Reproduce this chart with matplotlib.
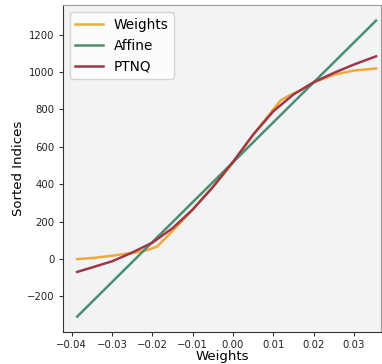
import matplotlib
matplotlib.use("Agg")
from matplotlib import pyplot as plt

# sorted weights vs index
weights_x = [-0.0387, -0.035, -0.030, -0.026, -0.0239, -0.0210, -0.0189, -0.015, -0.010, -0.005,
             0.0, 0.005, 0.010, 0.0118, 0.014, 0.017, 0.020, 0.025, 0.030, 0.0355]
weights_y = [0, 5, 18, 30, 36, 50, 66, 150, 265, 385,
             515, 665, 800, 848, 875, 905, 945, 985, 1008, 1019]

# affine fit endpoints
affine_x = [-0.0387, 0.0355]
affine_y = [-308, 1275]

# PTNQ curve
ptnq_x = [-0.0387, -0.035, -0.030, -0.025, -0.020, -0.015, -0.010, -0.005, 0.0,
          0.005, 0.010, 0.015, 0.020, 0.025, 0.030, 0.0355]
ptnq_y = [-69, -45, -12, 35, 88, 165, 265, 385, 520,
          665, 790, 880, 945, 995, 1040, 1084]

fig = plt.figure(figsize=(3.82, 3.64), dpi=100)
ax = fig.add_axes([0.165, 0.088, 0.832, 0.897])
ax.set_facecolor('#f2f3f5')

ax.plot(weights_x, weights_y, color='#f2a93b', lw=1.8, label='Weights')
ax.plot(affine_x, affine_y, color='#4c8f6e', lw=1.8, label='Affine')
ax.plot(ptnq_x, ptnq_y, color='#9c3848', lw=1.8, label='PTNQ')

ax.set_xlim(-0.0422, 0.0367)
ax.set_ylim(-390, 1356)
ax.set_xticks([-0.04, -0.03, -0.02, -0.01, 0.0, 0.01, 0.02, 0.03])
ax.set_yticks([-200, 0, 200, 400, 600, 800, 1000, 1200])
ax.tick_params(labelsize=7.3, length=3, pad=3, color='#333333', labelcolor='#222222')

for s in ['left', 'bottom']:
  ax.spines[s].set_color('#333333')
for s in ['top', 'right']:
  ax.spines[s].set_color('#999999')

ax.set_xlabel('Weights', fontsize=9.5, labelpad=0)
ax.set_ylabel('Sorted Indices', fontsize=9.5, labelpad=1.5)
ax.legend(loc='upper left', fontsize=9.8, handlelength=2.0, borderaxespad=0.5)

fig.savefig('out.png', dpi=100)
